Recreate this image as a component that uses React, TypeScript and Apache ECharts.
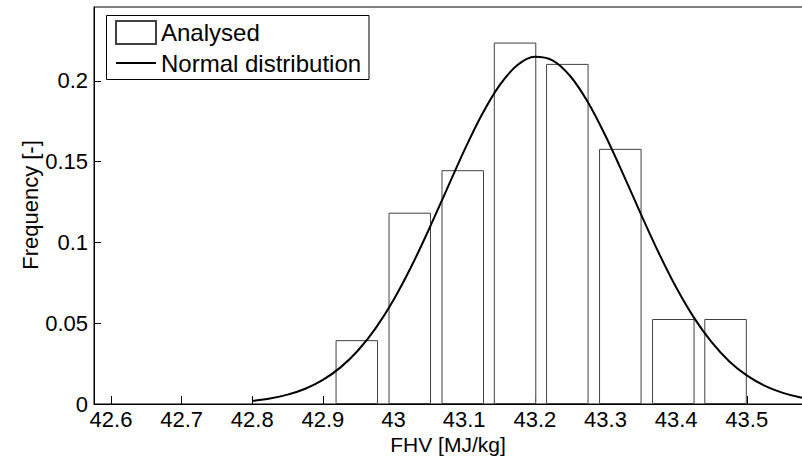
import React, { useEffect, useRef } from "react";
import * as echarts from "echarts";

// Histogram bins (centres, MJ/kg) and relative frequencies
const binCenters = [42.948, 43.023, 43.098, 43.172, 43.246, 43.321, 43.396, 43.47];
const binFreq = [0.0395, 0.1184, 0.1447, 0.2237, 0.2105, 0.1579, 0.0526, 0.0526];

// Normal distribution curve
const curveX = [
  42.8, 42.825, 42.85, 42.875, 42.9, 42.925, 42.95, 42.975, 43.0, 43.025, 43.05,
  43.075, 43.1, 43.125, 43.15, 43.175, 43.2, 43.225, 43.25, 43.275, 43.3, 43.325,
  43.35, 43.375, 43.4, 43.425, 43.45, 43.475, 43.5, 43.525, 43.55, 43.575, 43.6,
];
const curveY = [
  0.00194, 0.00341, 0.00578, 0.00945, 0.01491, 0.02267, 0.03328, 0.04715, 0.0644,
  0.0849, 0.108, 0.1324, 0.1568, 0.179, 0.1972, 0.2096, 0.2149, 0.2127, 0.203,
  0.1869, 0.166, 0.1423, 0.1177, 0.0939, 0.0722, 0.0536, 0.0384, 0.0265, 0.0177,
  0.0114, 0.00707, 0.00423, 0.00245,
];

const xTicks = [42.6, 42.7, 42.8, 42.9, 43.0, 43.1, 43.2, 43.3, 43.4, 43.5];
const yTicks = [0, 0.05, 0.1, 0.15, 0.2];

const FONT = "'Liberation Sans', Arial, sans-serif";

export default function App() {
  const ref = useRef<HTMLDivElement>(null);

  useEffect(() => {
    document.body.style.margin = "0";
    const chart = echarts.init(ref.current!, undefined, { renderer: "svg" });
    const fmt = (v: number) => String(Math.round(v * 1000) / 1000);
    chart.setOption({
      animation: false,
      backgroundColor: "#fff",
      textStyle: { fontFamily: FONT },
      grid: {
        left: 94,
        top: 7,
        right: -15.4,
        bottom: 57,
        outerBoundsMode: "none",
        containLabel: false,
        show: true,
        borderColor: "#000",
        borderWidth: 1,
        backgroundColor: "transparent",
      },
      legend: {
        orient: "vertical",
        left: 115,
        top: 20,
        padding: 0,
        itemWidth: 40,
        itemHeight: 23,
        itemGap: 6,
        textStyle: { fontSize: 24, color: "#000", fontFamily: FONT },
        data: [
          { name: "Analysed", icon: "rect" },
          {
            name: "Normal distribution",
            itemStyle: { opacity: 0, color: "transparent", borderWidth: 0 },
            lineStyle: { color: "#000", width: 1.8 },
          },
        ],
      },
      xAxis: {
        type: "value",
        min: 42.576,
        max: 43.6,
        splitLine: { show: false },
        axisLine: { show: true, lineStyle: { color: "#000", width: 1 } },
        axisTick: {
          show: true,
          inside: true,
          length: 8,
          customValues: xTicks,
          lineStyle: { color: "#000" },
        },
        axisLabel: {
          customValues: xTicks,
          fontSize: 22,
          lineHeight: 20,
          color: "#000",
          margin: 5,
          fontFamily: FONT,
          formatter: (v: number) => fmt(v),
        },
      },
      yAxis: {
        type: "value",
        min: 0,
        max: 0.2457,
        splitLine: { show: false },
        axisLine: { show: true, lineStyle: { color: "#000", width: 1 } },
        axisTick: {
          show: true,
          inside: true,
          length: 7,
          customValues: yTicks,
          lineStyle: { color: "#000" },
        },
        axisLabel: {
          customValues: yTicks,
          fontSize: 22,
          color: "#000",
          margin: 6,
          fontFamily: FONT,
          formatter: (v: number) => fmt(v),
        },
      },
      graphic: [
        {
          type: "rect",
          z: 3,
          shape: { x: 106.5, y: 15.5, width: 262.5, height: 64 },
          style: { fill: "#fff", stroke: "#000", lineWidth: 1 },
        },
        {
          type: "text",
          x: 448,
          y: 444,
          style: {
            text: "FHV [MJ/kg]",
            fontSize: 21,
            lineHeight: 20,
            fontFamily: FONT,
            fill: "#000",
            align: "center",
            verticalAlign: "middle",
          },
        },
        {
          type: "text",
          x: 30,
          y: 205,
          rotation: Math.PI / 2,
          style: {
            text: "Frequency [-]",
            fontSize: 22,
            fontFamily: FONT,
            fill: "#000",
            align: "center",
            verticalAlign: "middle",
          },
        },
      ],
      series: [
        {
          name: "Analysed",
          type: "bar",
          barWidth: 42.5,
          data: binCenters.map((x, i) => [x, binFreq[i]]),
          itemStyle: { color: "#fff", borderColor: "#404040", borderWidth: 1 },
          z: 2,
        },
        {
          name: "Normal distribution",
          type: "line",
          data: curveX.map((x, i) => [x, curveY[i]]),
          showSymbol: false,
          symbol: "none",
          smooth: 0.3,
          lineStyle: { color: "#000", width: 2 },
          itemStyle: { color: "#000" },
          z: 3,
        },
      ],
    });
    return () => chart.dispose();
  }, []);

  return (
    <div
      ref={ref}
      style={{ position: "absolute", left: 0, top: 0, width: 802, height: 461 }}
    />
  );
}
